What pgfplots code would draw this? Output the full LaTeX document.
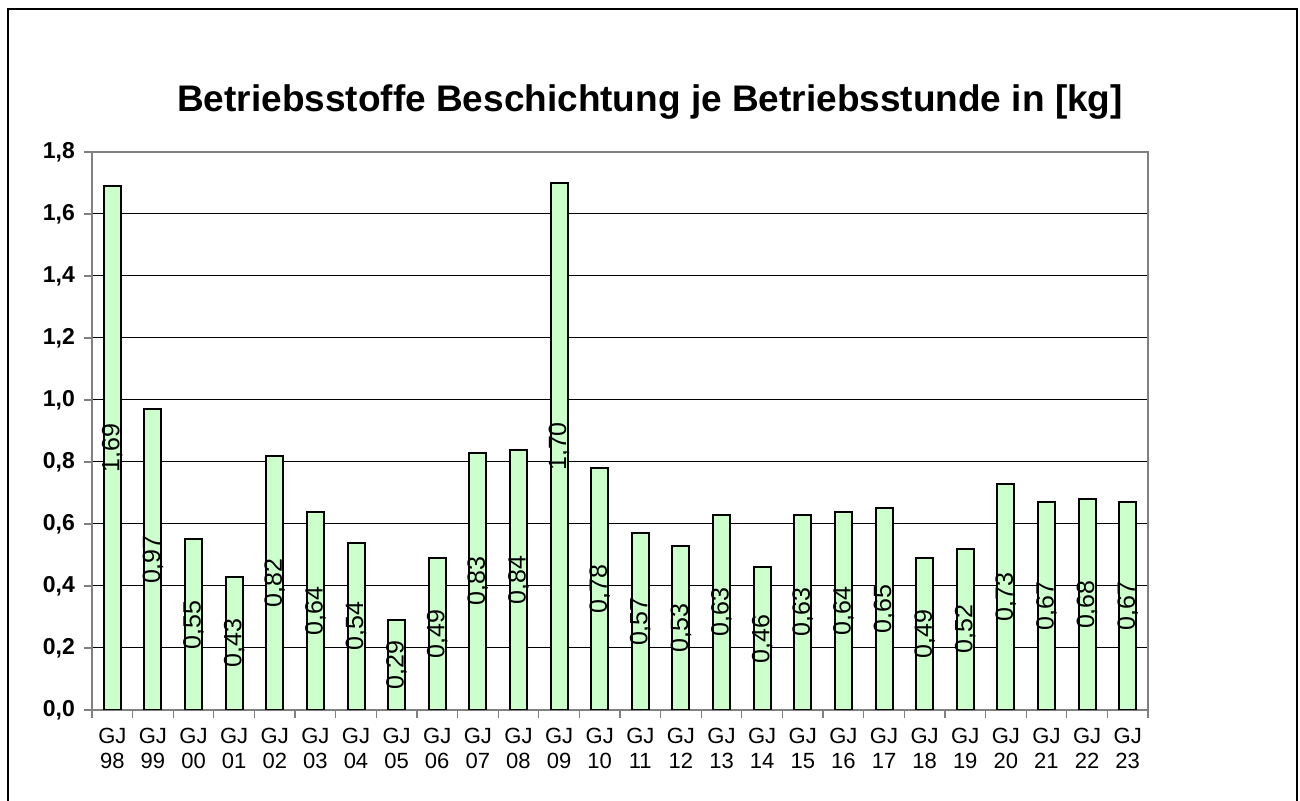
\documentclass[border=0pt]{standalone}
\usepackage{pgfplots}
\pgfplotsset{compat=1.18}
\usepackage{fontspec}
\setmainfont{Liberation Sans}
\definecolor{barfill}{HTML}{CCFFCC}
\begin{document}
\begin{tikzpicture}
\useasboundingbox (-46pt,-45.5pt) rectangle (604pt,355pt);
\clip (-46pt,-45.5pt) rectangle (604pt,355pt);
\draw[line width=1pt] (-42pt,-60pt) -- (-42pt,350.5pt) -- (602.5pt,350.5pt) -- (602.5pt,-60pt);
\node[font=\bfseries\fontsize{18.5}{21}\selectfont] at (279pt,304pt) {Betriebsstoffe Beschichtung je Betriebsstunde in [kg]};
\begin{axis}[
  at={(0pt,0pt)}, anchor=south west,
  scale only axis, width=528pt, height=279pt,
  xmin=-0.5, xmax=25.5, ymin=0, ymax=1.8,
  ytick={0,0.2,...,1.8},
  xtick={0,...,25},
  xticklabels={{GJ\\98},{GJ\\99},{GJ\\00},{GJ\\01},{GJ\\02},{GJ\\03},{GJ\\04},{GJ\\05},{GJ\\06},{GJ\\07},{GJ\\08},{GJ\\09},{GJ\\10},{GJ\\11},{GJ\\12},{GJ\\13},{GJ\\14},{GJ\\15},{GJ\\16},{GJ\\17},{GJ\\18},{GJ\\19},{GJ\\20},{GJ\\21},{GJ\\22},{GJ\\23}},
  xticklabel style={align=center, font=\fontsize{11}{12.5}\selectfont, yshift=-1.5pt},
  yticklabel style={font=\bfseries\fontsize{11.5}{12}\selectfont, xshift=-1pt},
  /pgf/number format/assume math mode=true,
  yticklabel={\pgfmathprintnumber[fixed,precision=1,zerofill,use comma]{\tick}},
  minor xtick={-0.5,0.5,...,25.5},
  xtick pos=bottom, ytick pos=left,
  major x tick style={draw=none},
  minor x tick style={draw=gray, line width=0.6pt},
  y tick style={draw=gray, line width=0.6pt},
  minor tick length=4pt, major tick length=4pt,
  tick align=outside,
  axis line style={draw=gray, line width=0.7pt},
  ymajorgrids, grid style={black, line width=0.5pt},
  ybar, bar width=8.5pt,
  nodes near coords={\pgfmathprintnumber[fixed,precision=2,zerofill,use comma]{\pgfplotspointmeta}},
  visualization depends on=rawy \as \rawy,
  nodes near coords style={font=\fontsize{12.5}{13}\selectfont, shift={(axis direction cs:0,-\rawy/2)}, rotate=90, anchor=center},
]
\addplot[fill=barfill, draw=black, line width=1pt] coordinates {
(0,1.69) (1,0.97) (2,0.55) (3,0.43) (4,0.82) (5,0.64) (6,0.54) (7,0.29) (8,0.49) (9,0.83) (10,0.84) (11,1.70) (12,0.78) (13,0.57) (14,0.53) (15,0.63) (16,0.46) (17,0.63) (18,0.64) (19,0.65) (20,0.49) (21,0.52) (22,0.73) (23,0.67) (24,0.68) (25,0.67)
};
\end{axis}
\end{tikzpicture}
\end{document}
